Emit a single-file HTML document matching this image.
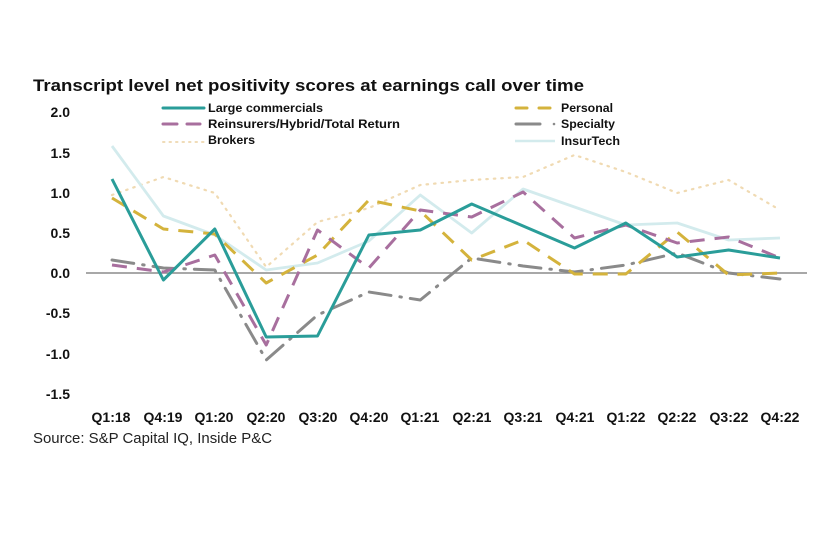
<!DOCTYPE html>
<html>
<head>
<meta charset="utf-8">
<style>
html,body{margin:0;padding:0;background:#fff;}
svg{display:block;}
text{font-family:"Liberation Sans",sans-serif;}
</style>
</head>
<body>
<svg width="840" height="554" viewBox="0 0 840 554" xmlns="http://www.w3.org/2000/svg">
<rect width="840" height="554" fill="#fff"/>
<text x="33" y="91" font-size="17" font-weight="bold" fill="#111" textLength="551" lengthAdjust="spacingAndGlyphs">Transcript level net positivity scores at earnings call over time</text>

<!-- legend -->
<g font-size="12" font-weight="bold" fill="#111">
<line x1="163" y1="108" x2="204" y2="108" stroke="#2a9d99" stroke-width="3" stroke-linecap="round"/>
<text x="208" y="112" textLength="115" lengthAdjust="spacingAndGlyphs">Large commercials</text>
<line x1="163" y1="124" x2="177" y2="124" stroke="#a86f9e" stroke-width="3" stroke-linecap="round"/>
<line x1="187" y1="124" x2="200" y2="124" stroke="#a86f9e" stroke-width="3" stroke-linecap="round"/>
<text x="208" y="128" textLength="192" lengthAdjust="spacingAndGlyphs">Reinsurers/Hybrid/Total Return</text>
<line x1="163" y1="142" x2="204" y2="142" stroke="#f0dcb8" stroke-width="2" stroke-dasharray="1.5 5" stroke-linecap="round"/>
<text x="208" y="144" textLength="47" lengthAdjust="spacingAndGlyphs">Brokers</text>

<line x1="516" y1="108" x2="527" y2="108" stroke="#d4b33c" stroke-width="3" stroke-linecap="round"/>
<line x1="539" y1="108" x2="550" y2="108" stroke="#d4b33c" stroke-width="3" stroke-linecap="round"/>
<text x="561" y="112" textLength="52" lengthAdjust="spacingAndGlyphs">Personal</text>
<line x1="516" y1="124" x2="540" y2="124" stroke="#8a8a8a" stroke-width="3" stroke-linecap="round"/>
<circle cx="554" cy="124" r="1.3" fill="#8a8a8a"/>
<text x="561" y="128" textLength="54" lengthAdjust="spacingAndGlyphs">Specialty</text>
<line x1="515" y1="141" x2="555" y2="141" stroke="#d3ebed" stroke-width="2.5"/>
<text x="561" y="145" textLength="59" lengthAdjust="spacingAndGlyphs">InsurTech</text>
</g>

<!-- y axis labels -->
<g font-size="14" font-weight="bold" fill="#111" text-anchor="end">
<text x="70" y="117">2.0</text>
<text x="70" y="158">1.5</text>
<text x="70" y="198">1.0</text>
<text x="70" y="238">0.5</text>
<text x="70" y="278">0.0</text>
<text x="70" y="318">-0.5</text>
<text x="70" y="359">-1.0</text>
<text x="70" y="399">-1.5</text>
</g>

<!-- zero line -->
<line x1="86" y1="273" x2="807" y2="273" stroke="#8c8c8c" stroke-width="1.5"/>

<!-- series -->
<g fill="none" stroke-linejoin="round">
<!-- Brokers -->
<polyline stroke="#f0dab2" stroke-width="2.2" stroke-dasharray="1.5 6" stroke-linecap="round"
 points="112,195 163.4,177 214.8,193 266.2,267 317.5,222 368.9,208 420.3,185 471.7,180 523.1,177 574.5,155 625.8,172 677.2,193 728.6,180 780,210"/>
<!-- InsurTech -->
<polyline stroke="#d3ebed" stroke-width="2.8"
 points="112,146 163.4,216 214.8,235 266.2,270 317.5,263 368.9,241 420.3,195 471.7,233 523.1,189 574.5,207 625.8,225 677.2,223 728.6,240 780,238"/>
<!-- Specialty -->
<polyline stroke="#8a8a8a" stroke-width="3" stroke-dasharray="22 9 1.5 9" stroke-linecap="round"
 points="112,260 163.4,268 214.8,270 266.2,360 317.5,315 368.9,292 420.3,300 471.7,258 523.1,266 574.5,272 625.8,265 677.2,253 728.6,273 780,279"/>
<!-- Personal -->
<polyline stroke="#d4b33c" stroke-width="3" stroke-dasharray="15 10"
 points="112,198 163.4,229 214.8,234 266.2,283 317.5,255 368.9,200 420.3,211 471.7,260 523.1,240 574.5,274 625.8,274 677.2,232 728.6,275 780,273"/>
<!-- Reinsurers -->
<polyline stroke="#a86f9e" stroke-width="3" stroke-dasharray="15 10"
 points="112,265 163.4,272 214.8,255 266.2,345 317.5,230 368.9,268 420.3,210 471.7,217 523.1,192 574.5,238 625.8,225 677.2,243 728.6,237 780,258"/>
<!-- Large commercials -->
<polyline stroke="#2a9d99" stroke-width="3"
 points="112,179 163.4,280 214.8,229 266.2,337 317.5,336 368.9,235 420.3,230 471.7,204 523.1,226 574.5,248 625.8,223 677.2,257 728.6,250 780,258"/>
</g>

<!-- x labels -->
<g font-size="14" font-weight="bold" fill="#111" text-anchor="middle">
<text x="111" y="422">Q1:18</text>
<text x="163" y="422">Q4:19</text>
<text x="214" y="422">Q1:20</text>
<text x="266" y="422">Q2:20</text>
<text x="318" y="422">Q3:20</text>
<text x="369" y="422">Q4:20</text>
<text x="420" y="422">Q1:21</text>
<text x="472" y="422">Q2:21</text>
<text x="523" y="422">Q3:21</text>
<text x="575" y="422">Q4:21</text>
<text x="626" y="422">Q1:22</text>
<text x="677" y="422">Q2:22</text>
<text x="729" y="422">Q3:22</text>
<text x="780" y="422">Q4:22</text>
</g>

<text x="33" y="443" font-size="15" fill="#222" textLength="239" lengthAdjust="spacingAndGlyphs">Source: S&amp;P Capital IQ, Inside P&amp;C</text>
</svg>
</body>
</html>
